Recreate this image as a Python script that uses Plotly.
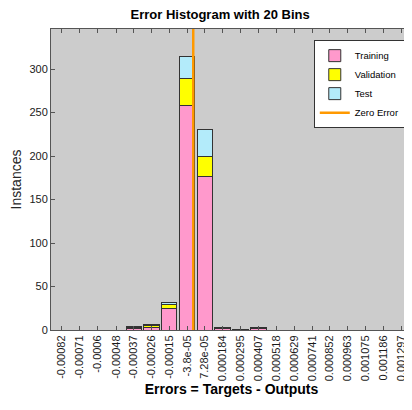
import plotly.graph_objects as go

# bin centres as printed on the x axis
bin_labels = ["-0.00082", "-0.00071", "-0.0006", "-0.00048", "-0.00037", "-0.00026",
              "-0.00015", "-3.8e-05", "7.28e-05", "0.000184", "0.000295", "0.000407",
              "0.000518", "0.000629", "0.000741", "0.000852", "0.000963", "0.001075",
              "0.001186", "0.001297"]
bin_centers = [float(s) for s in bin_labels]

training = [0, 0, 0, 0, 2, 3, 25, 258, 176, 2, 1, 2, 0, 0, 0, 0, 0, 0, 0, 0]
validation = [0, 0, 0, 0, 1, 2, 4, 31, 23, 0, 0, 1, 0, 0, 0, 0, 0, 0, 0, 0]
test = [0, 0, 0, 0, 1, 1, 3, 25, 32, 1, 0, 0, 0, 0, 0, 0, 0, 0, 0, 0]

y_ticks = [0, 50, 100, 150, 200, 250, 300]

bin_w = (bin_centers[-1] - bin_centers[0]) / (len(bin_centers) - 1)
bar_w = bin_w * 0.87
y_top = 346

font = "Liberation Sans, Arial, sans-serif"
edge = dict(color="#333333", width=1)

fig = go.Figure()
fig.add_trace(go.Bar(x=bin_centers, y=training, width=bar_w, name="Training",
                     marker=dict(color="#ff99cc", line=edge)))
fig.add_trace(go.Bar(x=bin_centers, y=validation, width=bar_w, name="Validation",
                     marker=dict(color="#ffff00", line=edge)))
fig.add_trace(go.Bar(x=bin_centers, y=test, width=bar_w, name="Test",
                     marker=dict(color="#b3ebfa", line=edge)))
fig.add_trace(go.Scatter(x=[0, 0], y=[0, y_top], mode="lines", name="Zero Error",
                         line=dict(color="#ff9900", width=2.5)))

# page body has an 8px margin, so the figure is sized to the visible window;
# the right frame edge of the original is cropped off, so no right line
fig.update_layout(
    width=404, height=402,
    barmode="stack",
    paper_bgcolor="white",
    plot_bgcolor="#cccccc",
    margin=dict(l=43, r=0, t=21, b=80),
    font=dict(family=font, size=11, color="#1a1a1a"),
    title=dict(text="<b>Error Histogram with 20 Bins</b>", x=0.525, xanchor="center",
               y=0.985, yanchor="middle", font=dict(size=13, color="black")),
    showlegend=True,
    legend=dict(x=0.98, y=0.963, xanchor="right", yanchor="top",
                bgcolor="white", bordercolor="#333333", borderwidth=1,
                font=dict(size=9.5, color="black"), tracegroupgap=0,
                traceorder="normal", itemwidth=30),
    xaxis=dict(
        range=[bin_centers[0] - 0.6 * bin_w, bin_centers[-1] + 0.6 * bin_w],
        tickvals=bin_centers, ticktext=bin_labels, tickangle=-90,
        ticks="inside", ticklen=4, tickcolor="#555555",
        showline=True, linecolor="#555555", mirror="ticks",
        showgrid=False, zeroline=False, automargin=False,
        ticklabeloverflow="allow",
        tickfont=dict(size=11),
        title=dict(text="<b>Errors = Targets - Outputs</b>", standoff=0,
                   font=dict(size=14, color="black")),
    ),
    yaxis=dict(
        range=[0, y_top], tickvals=y_ticks,
        ticks="inside", ticklen=4, tickcolor="#555555",
        showline=True, linecolor="#555555", mirror=False,
        showgrid=False, zeroline=False, automargin=False,
        tickfont=dict(size=11),
        title=dict(text="Instances", standoff=12, font=dict(size=14, color="#262626")),
    ),
)

fig.write_html("out.html")
